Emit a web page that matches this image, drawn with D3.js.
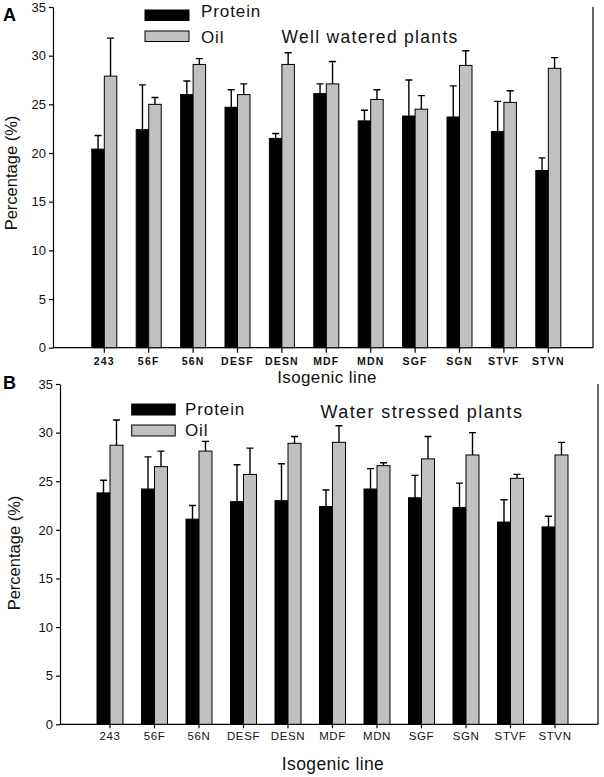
<!DOCTYPE html>
<html><head><meta charset="utf-8">
<script src="https://cdn.jsdelivr.net/npm/d3@7"></script>
<style>
body{margin:0;background:#fff;}
svg{display:block;font-family:"Liberation Sans",Arial,sans-serif;}
</style></head>
<body><svg id="c" width="604" height="777"></svg>
<script>
const categories = ["243","56F","56N","DESF","DESN","MDF","MDN","SGF","SGN","STVF","STVN"];
const series = ["Protein","Oil"];
const yTicks = [0,5,10,15,20,25,30,35];

// Panel A: well watered plants
const wellProtein    = [20.4,22.4,26.0,24.7,21.5,26.1,23.3,23.8,23.7,22.2,18.2];
const wellProteinErr = [1.4,4.6,1.4,1.8,0.5,1.0,1.1,3.7,3.2,3.1,1.3];
const wellOil        = [27.9,25.0,29.1,26.0,29.1,27.1,25.5,24.5,29.0,25.2,28.7];
const wellOilErr     = [3.9,0.7,0.6,1.1,1.2,2.3,1.0,1.4,1.5,1.2,1.1];

// Panel B: water stressed plants
const stressProtein    = [23.8,24.2,21.1,22.9,23.0,22.4,24.2,23.3,22.3,20.8,20.3];
const stressProteinErr = [1.3,3.3,1.4,3.8,3.8,1.7,2.1,2.3,2.5,2.3,1.1];
const stressOil        = [28.7,26.5,28.1,25.7,28.9,29.0,26.6,27.3,27.7,25.3,27.7];
const stressOilErr     = [2.6,1.6,1.0,2.7,0.7,1.7,0.3,2.3,2.3,0.4,1.3];

const colors = {Protein:"#000000", Oil:"#c0c0c0"};
const svg = d3.select("#c");

function panel(cfg){
  const g = svg.append("g");
  const y = d3.scaleLinear().domain([0,35]).range([cfg.y0, cfg.y1]);
  const x = d3.scaleBand().domain(categories).range(cfg.xr)
      .paddingInner(cfg.pad).paddingOuter(cfg.pad/2);
  const xs = d3.scaleBand().domain(series).range([0, x.bandwidth()]);

  // y axis
  const ya = g.append("g").attr("transform",`translate(${cfg.ax},0)`)
    .call(d3.axisLeft(y).tickValues(yTicks).tickSize(4).tickPadding(3).tickSizeOuter(0));
  ya.selectAll("text").attr("font-size",13).attr("fill","#111").attr("font-family","Liberation Sans, Arial");
  ya.selectAll("line,path").attr("stroke","#000").attr("stroke-width",1.2);

  // x axis
  const xa = g.append("g").attr("transform",`translate(0,${cfg.y0})`)
    .call(d3.axisBottom(x).tickSize(cfg.xtick).tickPadding(cfg.xpad).tickSizeOuter(0));
  xa.select(".domain").remove();
  xa.selectAll("line").attr("stroke","#000").attr("stroke-width",1.2);
  xa.selectAll("text").attr("font-size",cfg.xfs).attr("font-weight",cfg.xfw)
    .attr("letter-spacing",cfg.xls).attr("fill","#111").attr("font-family","Liberation Sans, Arial");
  g.append("line").attr("x1",cfg.ax).attr("x2",cfg.rx).attr("y1",cfg.y0).attr("y2",cfg.y0)
    .attr("stroke","#000").attr("stroke-width",1.2);
  g.append("line").attr("x1",cfg.rx).attr("x2",cfg.rx).attr("y1",cfg.y0).attr("y2",cfg.y1)
    .attr("stroke","#000").attr("stroke-width",1.2);

  const rows = categories.map((c,i)=>({c,
    vals:[{s:"Protein",v:cfg.p[i],e:cfg.pe[i]},{s:"Oil",v:cfg.o[i],e:cfg.oe[i]}]}));
  const grp = g.selectAll(".grp").data(rows).enter().append("g")
    .attr("transform",d=>`translate(${x(d.c)},0)`);
  // error bars (upper only)
  grp.selectAll(".eb").data(d=>d.vals).enter().append("path")
    .attr("d",d=>{const cx=xs(d.s)+xs.bandwidth()/2;
      return `M${cx},${y(d.v)}V${y(d.v+d.e)}M${cx-3.5},${y(d.v+d.e)}H${cx+3.5}`;})
    .attr("stroke","#000").attr("stroke-width",1.4).attr("fill","none");
  grp.selectAll("rect").data(d=>d.vals).enter().append("rect")
    .attr("x",d=>xs(d.s)).attr("width",xs.bandwidth())
    .attr("y",d=>y(d.v)).attr("height",d=>y(0)-y(d.v))
    .attr("fill",d=>colors[d.s]).attr("stroke","#000").attr("stroke-width",1);

  // legend
  series.forEach((s,i)=>{
    g.append("rect").attr("x",cfg.lx).attr("y",cfg.ly[i]).attr("width",cfg.lw).attr("height",cfg.lh)
      .attr("fill",colors[s]).attr("stroke","#000").attr("stroke-width",1);
    g.append("text").attr("x",cfg.ltx).attr("y",cfg.lty[i]).text(s)
      .attr("font-size",17).attr("letter-spacing",0.9).attr("fill","#111");
  });
  g.append("text").attr("x",cfg.tx).attr("y",cfg.ty).text(cfg.title)
    .attr("font-size",cfg.tfs).attr("letter-spacing",cfg.tls).attr("fill","#111");
  // panel letter
  g.append("text").attr("x",3).attr("y",cfg.letterY).text(cfg.letter)
    .attr("font-size",18).attr("font-weight","bold").attr("fill","#000");
  // y title
  g.append("text").attr("transform",`translate(${cfg.ytx},${cfg.yty}) rotate(-90)`)
    .attr("text-anchor","middle").text("Percentage (%)").attr("font-size",16.5).attr("fill","#111");
  // x title
  g.append("text").attr("x",cfg.xtx).attr("y",cfg.xty).attr("text-anchor","middle")
    .text("Isogenic line").attr("font-size",cfg.xtfs).attr("letter-spacing",0.4).attr("fill","#111");
}

panel({y0:347.7,y1:7,ax:53,rx:593,xr:[82.1,570.5],pad:0.437,
  p:wellProtein,pe:wellProteinErr,o:wellOil,oe:wellOilErr,
  xtick:5,xpad:5,xfs:10.5,xfw:"bold",xls:1.2,
  lx:145,ly:[10,31],lw:44,lh:10.5,ltx:201,lty:[16.7,42.7],
  tx:281.5,ty:42.7,title:"Well watered plants",tfs:17.5,tls:1.3,
  letter:"A",letterY:21,ytx:17,yty:173,xtx:327,xty:383,xtfs:17});

panel({y0:724.3,y1:384,ax:60,rx:598,xr:[87.75,577.25],pad:0.416,
  p:stressProtein,pe:stressProteinErr,o:stressOil,oe:stressOilErr,
  xtick:4,xpad:4,xfs:11.5,xfw:"normal",xls:0.6,
  lx:131.7,ly:[404,425],lw:43.5,lh:11,ltx:185,lty:[415,435.7],
  tx:320.5,ty:418.3,title:"Water stressed plants",tfs:18,tls:1.4,
  letter:"B",letterY:388.5,ytx:20,yty:553,xtx:333,xty:770,xtfs:17.5});
</script></body></html>
